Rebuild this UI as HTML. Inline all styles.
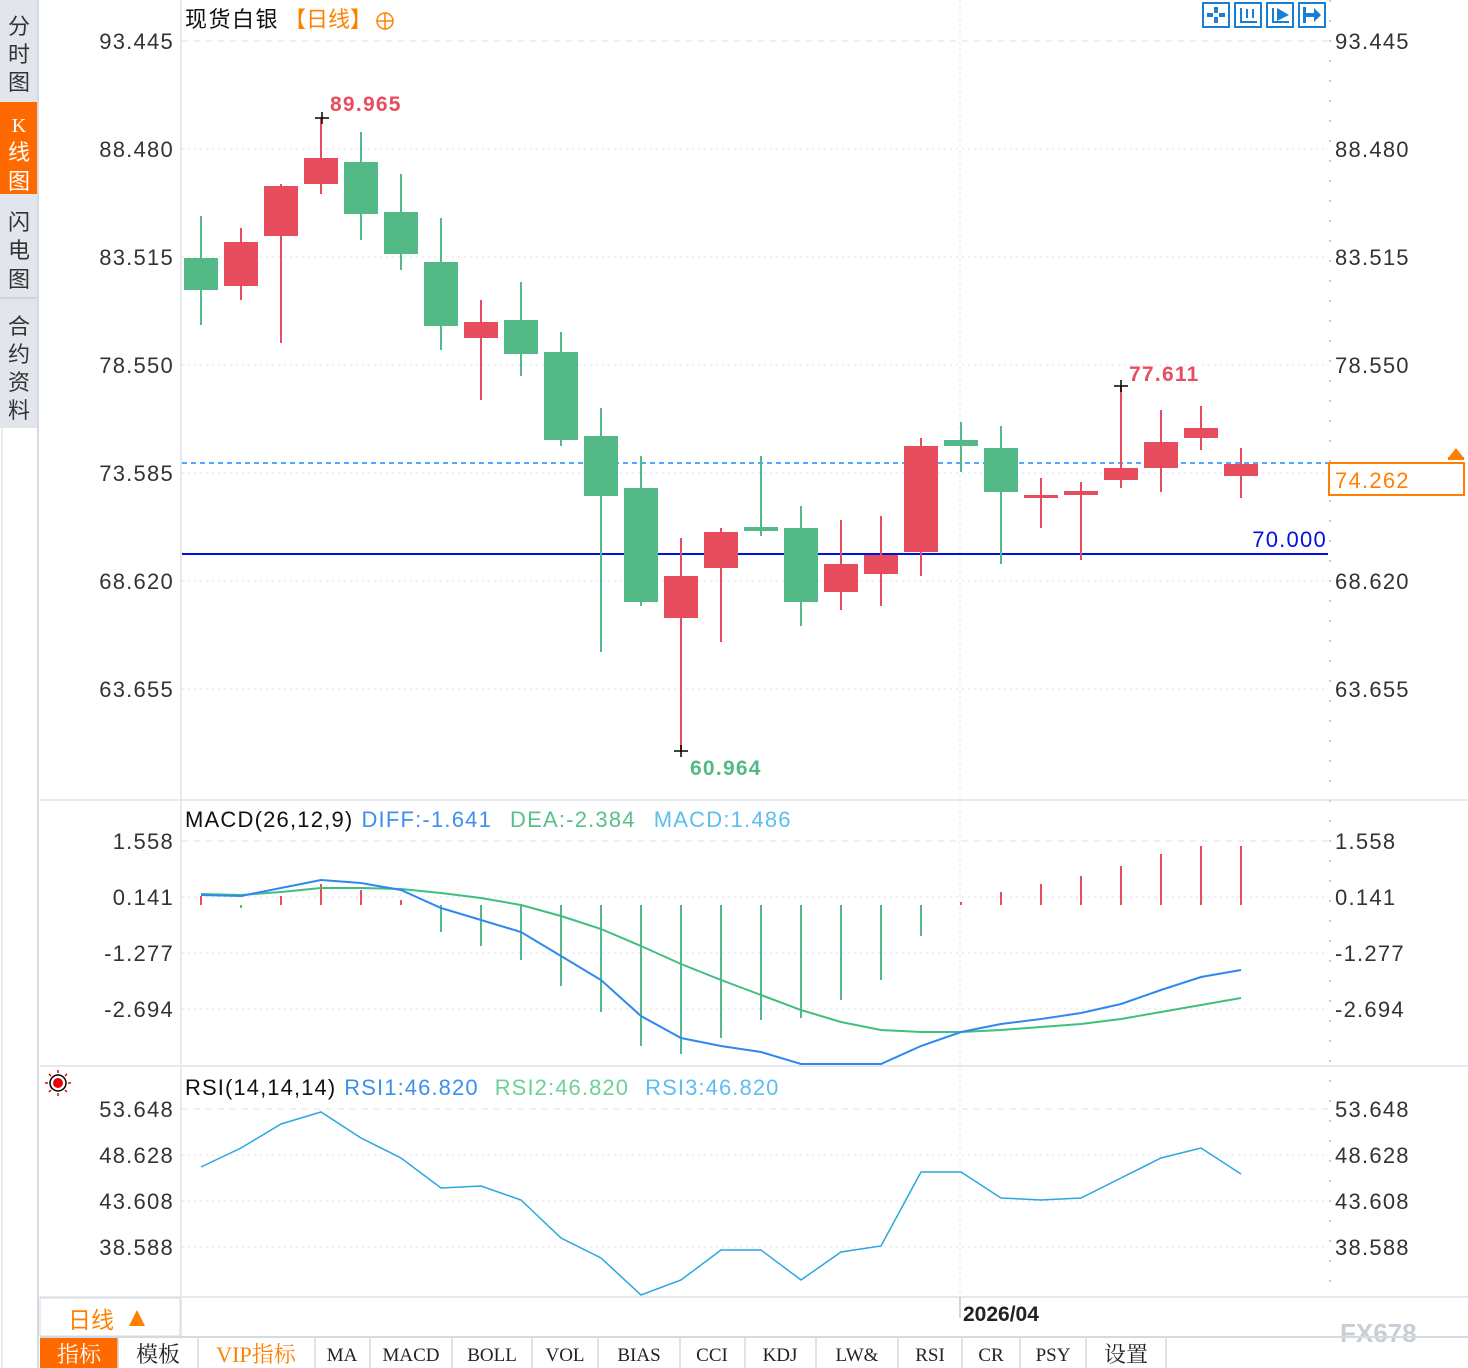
<!DOCTYPE html>
<html><head><meta charset="utf-8"><style>
body{margin:0;width:1468px;height:1368px;background:#fff;overflow:hidden;font-family:"Liberation Sans","Noto Sans CJK SC",sans-serif;}
svg{position:absolute;left:0;top:0}
.ls{letter-spacing:1.25px}
</style></head><body>
<svg id="s" width="1468" height="1368" xmlns="http://www.w3.org/2000/svg" font-family="Liberation Sans, Noto Sans CJK SC, sans-serif">
<rect x="0" y="0" width="38" height="1368" fill="#fff"/>
<rect x="0" y="0" width="38" height="428" fill="#e2e5ec"/>
<rect x="0" y="102" width="38" height="92" fill="#ff6a00"/>
<line x1="0" y1="298" x2="38" y2="298" stroke="#cfd4dc" stroke-width="2"/>
<line x1="38" y1="0" x2="38" y2="1368" stroke="#d5d9e0" stroke-width="2"/>
<line x1="2" y1="428" x2="2" y2="1368" stroke="#d5d9e0" stroke-width="1"/>
<g font-size="22" fill="#333" text-anchor="middle">
<text x="19" y="34">分</text><text x="19" y="62">时</text><text x="19" y="90">图</text>
<text x="19" y="132" fill="#fff" font-size="20" font-family="Liberation Serif,serif">K</text><text x="19" y="160" fill="#fff">线</text><text x="19" y="189" fill="#fff">图</text>
<text x="19" y="230">闪</text><text x="19" y="258">电</text><text x="19" y="287">图</text>
<text x="19" y="334">合</text><text x="19" y="362">约</text><text x="19" y="390">资</text><text x="19" y="418">料</text>
</g>
<g stroke="#e6e9ee" stroke-width="2">
<line x1="40" y1="800" x2="1468" y2="800"/><line x1="40" y1="1066" x2="1468" y2="1066"/><line x1="40" y1="1297" x2="1468" y2="1297"/>
</g>
<line x1="181" y1="0" x2="181" y2="1336" stroke="#e6e9ee" stroke-width="2"/>
<line x1="1330" y1="0" x2="1330" y2="1297" stroke="#c8cdd4" stroke-width="2" stroke-dasharray="2,18"/>
<line x1="960" y1="0" x2="960" y2="1297" stroke="#e6e9ee" stroke-width="1" stroke-dasharray="3,3"/>
<line x1="960" y1="1297" x2="960" y2="1318" stroke="#aaa" stroke-width="1"/>
<g stroke="#dde1e6" stroke-width="1" stroke-dasharray="2,4">
<line x1="182" y1="149" x2="1328" y2="149"/><line x1="182" y1="257" x2="1328" y2="257"/><line x1="182" y1="365" x2="1328" y2="365"/><line x1="182" y1="473" x2="1328" y2="473"/><line x1="182" y1="581" x2="1328" y2="581"/><line x1="182" y1="689" x2="1328" y2="689"/>
<line x1="182" y1="897" x2="1328" y2="897"/><line x1="182" y1="953" x2="1328" y2="953"/><line x1="182" y1="1009" x2="1328" y2="1009"/>
<line x1="182" y1="1155" x2="1328" y2="1155"/><line x1="182" y1="1201" x2="1328" y2="1201"/><line x1="182" y1="1247" x2="1328" y2="1247"/>
</g>
<g stroke="#dde1e6" stroke-width="1" stroke-dasharray="6,6">
<line x1="182" y1="41" x2="1328" y2="41"/><line x1="182" y1="841" x2="1328" y2="841"/><line x1="182" y1="1109" x2="1328" y2="1109"/>
</g>
<g font-size="22" fill="#333" class="ls">
<g text-anchor="end">
<text x="174" y="49">93.445</text><text x="174" y="157">88.480</text><text x="174" y="265">83.515</text><text x="174" y="373">78.550</text><text x="174" y="481">73.585</text><text x="174" y="589">68.620</text><text x="174" y="697">63.655</text>
<text x="174" y="849">1.558</text><text x="174" y="905">0.141</text><text x="174" y="961">-1.277</text><text x="174" y="1017">-2.694</text>
<text x="174" y="1117">53.648</text><text x="174" y="1163">48.628</text><text x="174" y="1209">43.608</text><text x="174" y="1255">38.588</text>
</g>
<text x="1335" y="49">93.445</text><text x="1335" y="157">88.480</text><text x="1335" y="265">83.515</text><text x="1335" y="373">78.550</text><text x="1335" y="589">68.620</text><text x="1335" y="697">63.655</text>
<text x="1335" y="849">1.558</text><text x="1335" y="905">0.141</text><text x="1335" y="961">-1.277</text><text x="1335" y="1017">-2.694</text>
<text x="1335" y="1117">53.648</text><text x="1335" y="1163">48.628</text><text x="1335" y="1209">43.608</text><text x="1335" y="1255">38.588</text>
</g>
<text x="185" y="27" font-size="22" fill="#111" letter-spacing="1.5">现货白银</text>
<text x="284" y="27" font-size="22" fill="#ff8000">【日线】</text>
<circle cx="385" cy="21" r="8" fill="none" stroke="#ff8000" stroke-width="1.5"/><line x1="377" y1="21" x2="393" y2="21" stroke="#ff8000" stroke-width="1.5"/><line x1="385" y1="13" x2="385" y2="29" stroke="#ff8000" stroke-width="1.5"/>
<g fill="none" stroke="#1a7fd4" stroke-width="2">
<rect x="1203" y="3" width="26" height="24"/><rect x="1235" y="3" width="26" height="24"/><rect x="1267" y="3" width="26" height="24"/><rect x="1299" y="3" width="26" height="24"/>
</g>
<g fill="#1a7fd4"><rect x="1214" y="7" width="4" height="6"/><rect x="1214" y="17" width="4" height="6"/><rect x="1207" y="13" width="6" height="4"/><rect x="1219" y="13" width="6" height="4"/>
<rect x="1240" y="8" width="2" height="15"/><rect x="1240" y="21" width="17" height="2"/><rect x="1246" y="9" width="2" height="9"/><rect x="1252" y="9" width="2" height="9"/>
<rect x="1272" y="8" width="2" height="15"/><rect x="1272" y="21" width="17" height="2"/><polygon points="1277,8 1289,15 1277,21"/>
<rect x="1303" y="7" width="3" height="16"/><rect x="1306" y="13" width="10" height="4"/><polygon points="1314,8 1321,15 1314,22"/>
</g>
<line x1="182" y1="554" x2="1328" y2="554" stroke="#0010e0" stroke-width="2"/>
<text x="1327" y="547" font-size="22" fill="#0010e0" text-anchor="end" class="ls">70.000</text>
<line x1="182" y1="463" x2="1330" y2="463" stroke="#1a8cff" stroke-width="1.5" stroke-dasharray="5,4"/>
<rect x="1329" y="463" width="135" height="32" fill="#fff" stroke="#ff8000" stroke-width="2"/>
<text x="1335" y="488" font-size="22" fill="#ff8000" class="ls">74.262</text>
<polygon points="1449,457 1456,448 1463,457" fill="#ff8000"/><rect x="1448" y="457" width="16" height="3" fill="#ff8000"/>
<g id="cand"></g>
<text x="330" y="111" font-size="21" fill="#e84d5e" font-weight="bold" class="ls">89.965</text>
<text x="1129" y="381" font-size="21" fill="#e84d5e" font-weight="bold" class="ls">77.611</text>
<text x="690" y="775" font-size="21" fill="#52b987" font-weight="bold" class="ls">60.964</text>
<g stroke="#000" stroke-width="1.5"><line x1="315" y1="118" x2="329" y2="118"/><line x1="322" y1="112" x2="322" y2="124"/>
<line x1="1114" y1="386" x2="1128" y2="386"/><line x1="1121" y1="380" x2="1121" y2="392"/>
<line x1="674" y1="751" x2="688" y2="751"/><line x1="681" y1="745" x2="681" y2="757"/></g>
<text x="185" y="827" font-size="22" letter-spacing="1.2"><tspan fill="#111">MACD(26,12,9)</tspan><tspan fill="#3b8ff0" dx="8">DIFF:-1.641</tspan><tspan fill="#5ac08a" dx="18">DEA:-2.384</tspan><tspan fill="#5cbdf0" dx="18">MACD:1.486</tspan></text>
<g id="macd"></g>
<g transform="translate(58,1083)"><circle r="5" fill="#e00"/><circle r="8" fill="none" stroke="#000" stroke-width="1.5"/>
<g stroke="#e00" stroke-width="1.5"><line x1="-13" y1="0" x2="-10" y2="0"/><line x1="10" y1="0" x2="13" y2="0"/><line x1="0" y1="-13" x2="0" y2="-10"/><line x1="0" y1="10" x2="0" y2="13"/><line x1="-9" y1="-9" x2="-7" y2="-7"/><line x1="9" y1="9" x2="7" y2="7"/><line x1="9" y1="-9" x2="7" y2="-7"/><line x1="-9" y1="9" x2="-7" y2="7"/></g></g>
<text x="185" y="1095" font-size="22" letter-spacing="1.1"><tspan fill="#111">RSI(14,14,14)</tspan><tspan fill="#3b8ff0" dx="8">RSI1:46.820</tspan><tspan fill="#6dd09a" dx="16">RSI2:46.820</tspan><tspan fill="#5cbdf0" dx="16">RSI3:46.820</tspan></text>
<polyline fill="none" stroke="#2aa6e0" stroke-width="1.5" points="201,1167 241,1148 281,1124 321,1112 361,1138 401,1158 441,1188 481,1186 521,1200 561,1238 601,1258 641,1295 681,1280 721,1250 761,1250 801,1280 841,1252 881,1246 921,1172 961,1172 1001,1198 1041,1200 1081,1198 1121,1178 1161,1158 1201,1148 1241,1174"/>
<rect x="40" y="1298" width="140" height="38" fill="#fff" stroke="#d5d9e0"/>
<text x="68" y="1328" font-size="23" fill="#ff8000">日线</text><polygon points="129,1326 137,1310 145,1326" fill="#ff8000"/>
<text x="963" y="1321" font-size="21" fill="#222" font-weight="bold">2026/04</text>
<text x="1340" y="1342" font-size="26" fill="#c8ced6" font-weight="bold">FX678</text>
<line x1="40" y1="1337" x2="1468" y2="1337" stroke="#d5d9e0" stroke-width="2"/>
<rect x="40" y="1338" width="78" height="30" fill="#ff6a00"/>
<g stroke="#d5d9e0" stroke-width="1.5"><line x1="118" y1="1338" x2="118" y2="1368"/><line x1="198" y1="1338" x2="198" y2="1368"/><line x1="315" y1="1338" x2="315" y2="1368"/><line x1="370" y1="1338" x2="370" y2="1368"/><line x1="452" y1="1338" x2="452" y2="1368"/><line x1="532" y1="1338" x2="532" y2="1368"/><line x1="598" y1="1338" x2="598" y2="1368"/><line x1="680" y1="1338" x2="680" y2="1368"/><line x1="745" y1="1338" x2="745" y2="1368"/><line x1="816" y1="1338" x2="816" y2="1368"/><line x1="898" y1="1338" x2="898" y2="1368"/><line x1="962" y1="1338" x2="962" y2="1368"/><line x1="1020" y1="1338" x2="1020" y2="1368"/><line x1="1086" y1="1338" x2="1086" y2="1368"/><line x1="1166" y1="1338" x2="1166" y2="1368"/></g>
<g font-size="22" text-anchor="middle" fill="#222" font-family="Liberation Serif, Noto Serif CJK SC, serif">
<text x="79" y="1362" fill="#fff">指标</text><text x="158" y="1362">模板</text><text x="256" y="1362" fill="#ff8000">VIP指标</text>
<text x="342" y="1361" font-size="19">MA</text><text x="411" y="1361" font-size="19">MACD</text><text x="492" y="1361" font-size="19">BOLL</text><text x="565" y="1361" font-size="19">VOL</text><text x="639" y="1361" font-size="19">BIAS</text><text x="712" y="1361" font-size="19">CCI</text><text x="780" y="1361" font-size="19">KDJ</text><text x="857" y="1361" font-size="19">LW&amp;</text><text x="930" y="1361" font-size="19">RSI</text><text x="991" y="1361" font-size="19">CR</text><text x="1053" y="1361" font-size="19">PSY</text><text x="1126" y="1362">设置</text>
</g>
</svg>
<script>
var NS="http://www.w3.org/2000/svg";
function el(p,t,a){var e=document.createElementNS(NS,t);for(var k in a)e.setAttribute(k,a[k]);p.appendChild(e);return e;}
var R="#e84d5e",G="#52b987";
var c=[[258,290,216,325,G],[242,286,228,300,R],[186,236,184,343,R],[158,184,118,194,R],[162,214,132,240,G],[212,254,174,270,G],[262,326,218,350,G],[322,338,300,400,R],[320,354,282,376,G],[352,440,332,446,G],[436,496,408,652,G],[488,602,456,606,G],[576,618,538,752,R],[532,568,528,642,R],[527,531,456,536,G],[528,602,506,626,G],[564,592,520,610,R],[555,574,516,606,R],[446,552,438,576,R],[440,446,422,472,G],[448,492,426,564,G],[495,498,478,528,R],[491,495,482,560,R],[468,480,386,488,R],[442,468,410,492,R],[428,438,406,450,R],[464,476,448,498,R]];
var g=document.getElementById("cand");
c.forEach(function(d,i){var x=201+40*i;
el(g,"line",{x1:x,y1:d[2],x2:x,y2:d[3],stroke:d[4],"stroke-width":2});
el(g,"rect",{x:x-17,y:d[0],width:34,height:Math.max(2,d[1]-d[0]),fill:d[4]});});
var m=document.getElementById("macd");
var h=[896,908,896,884,890,900,932,946,960,986,1012,1046,1054,1038,1020,1018,1000,980,936,902,892,884,876,866,854,846,846];
h.forEach(function(y,i){var x=201+40*i,z=905;el(m,"line",{x1:x,y1:z,x2:x,y2:y,stroke:y<z?R:G,"stroke-width":2});});
var dif=[895,896,888,880,883,890,908,920,932,956,980,1016,1038,1046,1052,1064,1064,1064,1046,1032,1024,1019,1013,1004,990,977,970];
var dea=[894,895,892,888,888,889,893,898,905,916,929,946,964,980,995,1010,1022,1030,1032,1032,1030,1027,1024,1019,1012,1005,998];
function pl(a,col){el(m,"polyline",{fill:"none",stroke:col,"stroke-width":2,points:a.map(function(y,i){return (201+40*i)+","+y}).join(" ")});}
pl(dea,"#3fbf7f");pl(dif,"#2f88f0");
</script>
</body></html>
